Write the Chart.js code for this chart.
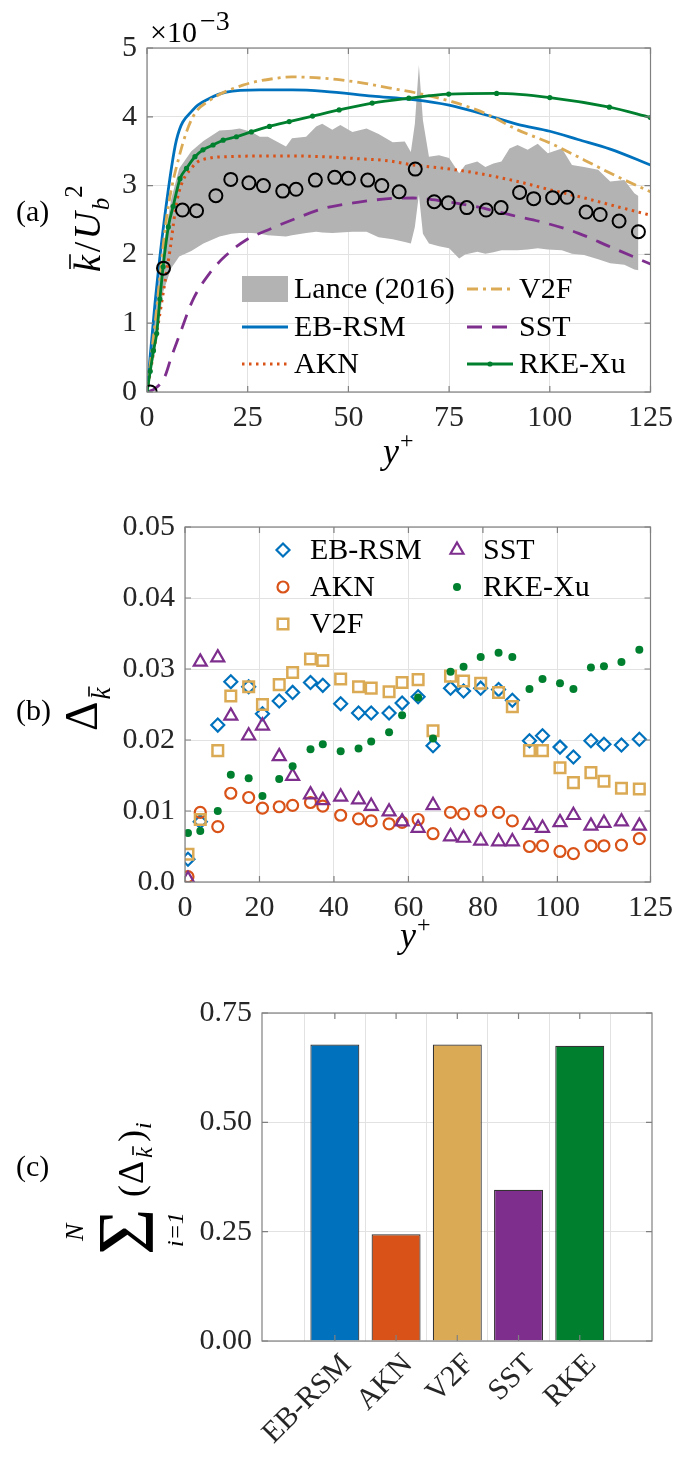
<!DOCTYPE html>
<html>
<head>
<meta charset="utf-8">
<script src="https://cdn.jsdelivr.net/npm/chart.js@4/dist/chart.umd.min.js"></script>
<style>
  body { margin: 0; background: #fff; width: 681px; height: 1464px; position: relative; overflow: hidden; }
  canvas { position: absolute; left: 0; }
</style>
</head>
<body>
<canvas id="cA" width="681" height="475" style="top:0px"></canvas>
<canvas id="cB" width="681" height="485" style="top:475px"></canvas>
<canvas id="cC" width="681" height="504" style="top:960px"></canvas>
<script>
// sample positions (y+) shared by the Lance circles and the error markers
var yPlus = [0.8, 4.1, 8.8, 12.3, 17.1, 20.8, 25.3, 28.9, 33.7, 37.0, 41.8, 46.6, 50.0, 54.8, 58.3,
             62.6, 66.6, 71.3, 74.8, 79.4, 84.2, 87.9, 92.5, 96.0, 100.7, 104.3, 109.0, 112.5, 117.2, 122.0];

// (a) k/Ub^2 x 1e3
var lanceK = [0, 1.80, 2.645, 2.635, 2.853, 3.09, 3.04, 3.0, 2.92, 2.946, 3.08, 3.12, 3.106, 3.08, 3.0,
              2.91, 3.24, 2.766, 2.75, 2.68, 2.645, 2.68, 2.9, 2.81, 2.825, 2.83, 2.616, 2.58, 2.485, 2.33];

var bandY  = [0, 2, 4, 6, 8, 11, 14, 18, 21, 23, 26, 28, 30, 34.5, 36, 39.5, 42, 43.5, 46, 48, 51, 54.5, 57.5, 61, 64,
              65.5, 66.5, 67.5, 68.5, 70, 72.5, 75, 77.5, 79, 82, 84, 86, 88, 90, 92, 94.5, 97, 99.5, 103, 105.5,
              108.5, 112, 115, 118.5, 121, 122];
var bandHi = [0, 1.2, 2.1, 2.8, 3.25, 3.5, 3.65, 3.8, 3.81, 3.83, 3.78, 3.71, 3.71, 3.57, 3.69, 3.71, 3.86, 3.9, 3.81,
              3.88, 3.78, 3.83, 3.75, 3.63, 3.64, 3.49, 3.9, 4.75, 3.95, 3.42, 3.44, 3.4, 3.18, 3.3, 3.35, 3.27, 3.32,
              3.35, 3.54, 3.59, 3.52, 3.61, 3.47, 3.54, 3.3, 3.27, 3.23, 3.06, 3.08, 2.89, 2.85];
var bandLo = [0, 0.6, 1.45, 1.8, 1.97, 2.05, 2.16, 2.26, 2.3, 2.31, 2.31, 2.3, 2.28, 2.26, 2.28, 2.31, 2.33, 2.32, 2.31,
              2.32, 2.33, 2.33, 2.25, 2.22, 2.18, 2.16, 2.4, 2.87, 2.3, 2.16, 2.12, 2.09, 1.94, 2.0, 2.04, 2.01, 2.03,
              2.06, 2.06, 2.06, 2.07, 2.09, 2.07, 2.06, 2.01, 1.99, 1.93, 1.87, 1.85, 1.78, 1.77];

var ebY  = [0, 2, 4.4, 7.3, 11.4, 15.6, 19.7, 27.9, 36, 44, 56, 66, 75, 84, 92, 100, 107, 115, 125];
var ebK  = [0, 1.3, 2.55, 3.66, 4.10, 4.27, 4.36, 4.39, 4.39, 4.37, 4.30, 4.25, 4.17, 4.03, 3.89, 3.79, 3.67, 3.53, 3.30];
var aknY = [0, 2.4, 4, 5.7, 7.5, 11.4, 15.6, 20, 28, 36, 44, 52.6, 60, 66, 74, 82, 92, 100, 108.6, 117, 125];
var aknK = [0, 0.85, 1.43, 2.06, 2.8, 3.28, 3.40, 3.42, 3.43, 3.43, 3.42, 3.39, 3.36, 3.3, 3.25, 3.18, 3.06, 2.94, 2.82, 2.69, 2.57];
var v2fY = [0, 2, 4.9, 8.2, 11.4, 15.6, 23.8, 32, 36, 44, 52.6, 60, 67.4, 75.7, 84, 92, 100.4, 108.6, 116.8, 125];
var v2fK = [0, 1.0, 2.55, 3.47, 4.0, 4.24, 4.46, 4.56, 4.58, 4.56, 4.5, 4.42, 4.34, 4.22, 4.05, 3.81, 3.61, 3.37, 3.13, 2.91];
var sstY = [0, 2, 4.4, 6, 8.2, 11.4, 15.6, 19.7, 24.6, 31, 36, 44, 52.6, 60, 66, 74, 82, 90.5, 98.7, 107, 115, 125];
var sstK = [0, 0.05, 0.22, 0.5, 0.85, 1.34, 1.73, 1.99, 2.21, 2.38, 2.5, 2.67, 2.76, 2.81, 2.82, 2.77, 2.69, 2.57, 2.46, 2.31, 2.11, 1.86];
var rkeY = [0, 0.8, 1.6, 2.4, 3.2, 4, 5.3, 6.5, 8.2, 9.8, 11.9, 13.9, 16.4, 18.9, 22.2, 25.9, 30.4, 35.3, 41.1, 47.7,
            55.9, 65, 74.9, 86.8, 100, 114.8, 125];
var rkeK = [0, 0.3, 0.6, 0.85, 1.35, 1.82, 2.4, 2.7, 3.1, 3.25, 3.42, 3.52, 3.59, 3.66, 3.71, 3.78, 3.86, 3.93, 4.01, 4.10,
            4.2, 4.27, 4.33, 4.34, 4.28, 4.14, 3.99];

// (b) error at each sample point
var ebD  = [0.0032, 0.0085, 0.0221, 0.0282, 0.0275, 0.0237, 0.0255, 0.0267, 0.0281, 0.0277, 0.0251, 0.0238, 0.0238, 0.0238, 0.0252,
            0.0261, 0.0192, 0.0273, 0.0269, 0.0273, 0.0271, 0.0256, 0.0199, 0.0206, 0.0190, 0.0176, 0.0199, 0.0194, 0.0193, 0.0201];
var aknD = [0.00075, 0.0098, 0.0078, 0.0125, 0.0119, 0.0104, 0.0106, 0.0108, 0.0112, 0.0107, 0.0094, 0.0089, 0.0086, 0.0082, 0.0084,
            0.0088, 0.0068, 0.0098, 0.0096, 0.0100, 0.0098, 0.0086, 0.0050, 0.0051, 0.0043, 0.0040, 0.0051, 0.0051, 0.0052, 0.0061];
var v2fD = [0.0039, 0.0088, 0.0185, 0.0262, 0.0275, 0.0250, 0.0278, 0.0295, 0.0314, 0.0312, 0.0286, 0.0275, 0.0273, 0.0268, 0.0281,
            0.0285, 0.0213, 0.0290, 0.0283, 0.0280, 0.0267, 0.0247, 0.0185, 0.0185, 0.0161, 0.0140, 0.0154, 0.0142, 0.0132, 0.0131];
var sstD = [0.0004, 0.0310, 0.0316, 0.0234, 0.0206, 0.0220, 0.0177, 0.0149, 0.0123, 0.0115, 0.0120, 0.0116, 0.0107, 0.0099, 0.0085,
            0.0076, 0.0108, 0.0064, 0.0062, 0.0058, 0.0057, 0.0057, 0.0080, 0.0076, 0.0084, 0.0094, 0.0079, 0.0083, 0.0085, 0.0079];
var rkeD = [0.0069, 0.0072, 0.0100, 0.0151, 0.0146, 0.0121, 0.0145, 0.0163, 0.0187, 0.0194, 0.0184, 0.0188, 0.0198, 0.0211, 0.0235,
            0.0260, 0.0202, 0.0296, 0.0303, 0.0317, 0.0323, 0.0317, 0.0272, 0.0286, 0.0280, 0.0272, 0.0302, 0.0304, 0.0310, 0.0327];
var xTicksB = [0, 20, 40, 60, 80, 100, 125];

// (c) summed error
var models   = ['EB-RSM', 'AKN', 'V2F', 'SST', 'RKE'];
var sumDelta = [0.678, 0.244, 0.678, 0.346, 0.675];

var BLUE = '#0072BD', ORANGE = '#D95319', GOLD = '#DBAA55', PURPLE = '#7E2F8E', GREEN = '#00802F';
var GRID = '#e2e2e2';
var SERIF = '"Liberation Serif", "Times New Roman", serif';
function f(size, style) { return (style ? style + ' ' : '') + size + 'px ' + SERIF; }

Chart.defaults.font.family = SERIF;
Chart.defaults.font.size = 30;
Chart.defaults.color = '#262626';

function pts(xs, ys) { return xs.map(function (x, i) { return { x: x, y: ys[i] }; }); }

// box round the plot area with short inward ticks
var boxPlugin = {
  id: 'box',
  afterDatasetsDraw: function (chart) {
    var a = chart.chartArea, ctx = chart.ctx, L = 6;
    ctx.save();
    ctx.strokeStyle = '#808080';
    ctx.lineWidth = 1.2;
    ctx.strokeRect(a.left, a.top, a.right - a.left, a.bottom - a.top);
    ctx.beginPath();
    chart.scales.x.ticks.forEach(function (t) {
      var px = chart.scales.x.getPixelForValue(t.value);
      ctx.moveTo(px, a.bottom); ctx.lineTo(px, a.bottom - L);
      ctx.moveTo(px, a.top); ctx.lineTo(px, a.top + L);
    });
    chart.scales.y.ticks.forEach(function (t) {
      var py = chart.scales.y.getPixelForValue(t.value);
      ctx.moveTo(a.left, py); ctx.lineTo(a.left + L, py);
      ctx.moveTo(a.right, py); ctx.lineTo(a.right - L, py);
    });
    ctx.stroke();
    ctx.restore();
  }
};

// text with sub/superscripts, optionally rotated
function richText(items) {
  return {
    id: 'rich',
    afterDraw: function (chart) {
      var ctx = chart.ctx;
      items.forEach(function (it) {
        ctx.save();
        ctx.translate(it.x, it.y);
        if (it.rot) ctx.rotate(it.rot * Math.PI / 180);
        ctx.fillStyle = '#000';
        ctx.strokeStyle = '#000';
        ctx.textAlign = 'left';
        ctx.textBaseline = 'alphabetic';
        var pos = 0;
        it.runs.forEach(function (r) {
          ctx.font = r.font;
          var x = r.at != null ? r.at : pos;
          var y = r.dy || 0;
          var w = ctx.measureText(r.t).width;
          ctx.fillText(r.t, x, y);
          if (r.bar != null) {
            ctx.lineWidth = 1.6;
            ctx.beginPath();
            ctx.moveTo(x + 3, y + r.bar);
            ctx.lineTo(x + w + 1, y + r.bar);
            ctx.stroke();
          }
          pos = x + w + (r.gap || 0);
        });
        ctx.restore();
      });
    }
  };
}

function marker(ctx, style, r, x, y) {
  ctx.beginPath();
  if (style === 'circle') {
    ctx.arc(x, y, r, 0, Math.PI * 2);
  } else if (style === 'rect') {
    var s = Math.SQRT1_2 * r;
    ctx.rect(x - s, y - s, 2 * s, 2 * s);
  } else if (style === 'rectRot') {
    ctx.moveTo(x, y - r); ctx.lineTo(x + r, y); ctx.lineTo(x, y + r); ctx.lineTo(x - r, y); ctx.closePath();
  } else if (style === 'triangle') {
    ctx.moveTo(x, y - r); ctx.lineTo(x + r * 0.866, y + r / 2); ctx.lineTo(x - r * 0.866, y + r / 2); ctx.closePath();
  }
}

// legend drawn from the dataset styles at fixed spots
function legendAt(items) {
  return {
    id: 'legendAt',
    afterDraw: function (chart) {
      var ctx = chart.ctx;
      items.forEach(function (it) {
        var d = chart.data.datasets[it.ds];
        ctx.save();
        if (d.fill) {
          ctx.fillStyle = d.backgroundColor;
          ctx.fillRect(it.x0, it.y - 13, it.x1 - it.x0, 26);
        } else {
          if (d.showLine !== false && chart.config.type !== 'scatter') {
            ctx.strokeStyle = d.borderColor;
            ctx.lineWidth = d.borderWidth;
            ctx.setLineDash(d.borderDash || []);
            ctx.beginPath();
            ctx.moveTo(it.x0, it.y);
            ctx.lineTo(it.x1, it.y);
            ctx.stroke();
            ctx.setLineDash([]);
          }
          if (d.pointRadius > 0) {
            marker(ctx, d.pointStyle || 'circle', d.pointRadius, (it.x0 + it.x1) / 2, it.y);
            ctx.fillStyle = d.pointBackgroundColor;
            ctx.fill();
            if (d.pointBorderWidth > 0) {
              ctx.strokeStyle = d.pointBorderColor;
              ctx.lineWidth = d.pointBorderWidth;
              ctx.stroke();
            }
          }
        }
        ctx.fillStyle = '#000';
        ctx.font = f(30);
        ctx.textBaseline = 'middle';
        ctx.textAlign = 'left';
        ctx.fillText(d.label, it.x1 + 6, it.y + 1);
        ctx.restore();
      });
    }
  };
}

function axisOpts(extra) {
  var o = {
    grid: { color: GRID, lineWidth: 1, drawTicks: false },
    border: { display: false },
    ticks: { padding: 10, maxRotation: 0, color: '#262626' }
  };
  for (var k in extra) {
    if (k === 'ticks') { for (var t in extra.ticks) o.ticks[t] = extra.ticks[t]; }
    else o[k] = extra[k];
  }
  return o;
}

var common = {
  responsive: false,
  animation: false,
  devicePixelRatio: 1,
  events: [],
  plugins: { legend: { display: false }, tooltip: { enabled: false } }
};
function opts(extra) {
  var o = JSON.parse(JSON.stringify(common));
  for (var k in extra) o[k] = extra[k];
  return o;
}

// ---------- (a) ----------
new Chart(document.getElementById('cA'), {
  type: 'line',
  data: {
    datasets: [
      { label: 'Lance (2016)', data: pts(bandY, bandHi), borderColor: 'rgba(0,0,0,0)', borderWidth: 1,
        pointRadius: 0, fill: '+1', backgroundColor: '#b3b3b3', order: 10 },
      { label: 'band', data: pts(bandY, bandLo), borderColor: 'rgba(0,0,0,0)', borderWidth: 1,
        pointRadius: 0, fill: false, order: 11 },
      { label: 'EB-RSM', data: pts(ebY, ebK), borderColor: BLUE, borderWidth: 2.8, pointRadius: 0,
        cubicInterpolationMode: 'monotone', order: 5 },
      { label: 'AKN', data: pts(aknY, aknK), borderColor: ORANGE, borderWidth: 3, borderDash: [2.5, 4.5],
        pointRadius: 0, cubicInterpolationMode: 'monotone', order: 4 },
      { label: 'V2F', data: pts(v2fY, v2fK), borderColor: GOLD, borderWidth: 2.8, borderDash: [11, 5, 3, 5],
        pointRadius: 0, cubicInterpolationMode: 'monotone', order: 3 },
      { label: 'SST', data: pts(sstY, sstK), borderColor: PURPLE, borderWidth: 2.8, borderDash: [15, 10],
        pointRadius: 0, cubicInterpolationMode: 'monotone', order: 2 },
      { label: 'RKE-Xu', data: pts(rkeY, rkeK), borderColor: GREEN, borderWidth: 2.8, pointRadius: 2.6,
        pointStyle: 'circle', pointBackgroundColor: GREEN, pointBorderColor: GREEN, pointBorderWidth: 0,
        cubicInterpolationMode: 'monotone', order: 1 },
      { label: 'Lance', data: pts(yPlus, lanceK), showLine: false, pointStyle: 'circle', pointRadius: 6.5,
        pointBorderWidth: 2, pointBorderColor: '#000', pointBackgroundColor: 'rgba(0,0,0,0)', order: 0 }
    ]
  },
  options: opts({
    layout: { padding: { top: 48, right: 28, left: 0, bottom: 0 } },
    scales: {
      x: axisOpts({ type: 'linear', min: 0, max: 125, ticks: { stepSize: 25, padding: 8 },
        afterFit: function (s) { s.height = 83; } }),
      y: axisOpts({ type: 'linear', min: 0, max: 5, ticks: { stepSize: 1 },
        afterFit: function (s) { s.width = 147; } })
    }
  }),
  plugins: [boxPlugin,
    legendAt([
      { ds: 0, x0: 242, x1: 288, y: 289 },
      { ds: 2, x0: 242, x1: 288, y: 327 },
      { ds: 3, x0: 242, x1: 288, y: 364 },
      { ds: 4, x0: 467, x1: 513, y: 289 },
      { ds: 5, x0: 467, x1: 513, y: 327 },
      { ds: 6, x0: 467, x1: 513, y: 364 }
    ]),
    richText([
      { x: 16, y: 221, runs: [{ t: '(a)', font: f(30) }] },
      { x: 150, y: 42, runs: [{ t: '\u00d7', font: f(30) }, { t: '10', font: f(30), gap: 3 }, { t: '\u22123', font: f(28), dy: -12 }] },
      { x: 383, y: 463, runs: [{ t: 'y', font: f(36, 'italic'), gap: 1 }, { t: '+', font: f(24), dy: -15 }] },
      { x: 100, y: 272, rot: -90, runs: [
        { t: 'k', font: f(38, 'italic'), bar: -30, gap: 3 },
        { t: '/', font: f(38), gap: 2 },
        { t: 'U', font: f(38, 'italic'), gap: 2 },
        { t: 'b', font: f(25, 'italic'), dy: 9 },
        { t: '2', font: f(25), at: null, dy: -18 }
      ] }
    ])
  ]
});

// ---------- (b) ----------
function scat(label, ys, style, color, r, bw, filled, order) {
  return { label: label, data: pts(yPlus, ys), pointStyle: style, pointRadius: r,
    pointBorderWidth: bw, pointBorderColor: color,
    pointBackgroundColor: filled ? color : 'rgba(0,0,0,0)', order: order };
}
new Chart(document.getElementById('cB'), {
  type: 'scatter',
  data: {
    datasets: [
      scat('EB-RSM', ebD, 'rectRot', BLUE, 6.5, 2.2, false, 5),
      scat('AKN', aknD, 'circle', ORANGE, 5.5, 2.2, false, 4),
      scat('V2F', v2fD, 'rect', GOLD, 7.5, 2.5, false, 3),
      scat('SST', sstD, 'triangle', PURPLE, 7.5, 2.2, false, 2),
      scat('RKE-Xu', rkeD, 'circle', GREEN, 4, 0, true, 1)
    ]
  },
  options: opts({
    layout: { padding: { top: 52, right: 29, left: 0, bottom: 0 } },
    scales: {
      x: axisOpts({ type: 'linear', min: 0, max: 125, ticks: { padding: 8 },
        afterBuildTicks: function (s) { s.ticks = xTicksB.map(function (v) { return { value: v }; }); },
        afterFit: function (s) { s.height = 78; } }),
      y: axisOpts({ type: 'linear', min: 0, max: 0.05,
        ticks: { stepSize: 0.01, callback: function (v) { return v === 0 ? '0.0' : v.toFixed(2); } },
        afterFit: function (s) { s.width = 185; } })
    }
  }),
  plugins: [boxPlugin,
    legendAt([
      { ds: 0, x0: 262, x1: 304, y: 75 },
      { ds: 1, x0: 262, x1: 304, y: 112 },
      { ds: 2, x0: 262, x1: 304, y: 149 },
      { ds: 3, x0: 437, x1: 477, y: 75 },
      { ds: 4, x0: 437, x1: 477, y: 112 }
    ]),
    richText([
      { x: 16, y: 245, runs: [{ t: '(b)', font: f(30) }] },
      { x: 400, y: 472, runs: [{ t: 'y', font: f(36, 'italic'), gap: 1 }, { t: '+', font: f(24), dy: -15 }] },
      { x: 97, y: 256, rot: -90, runs: [
        { t: '\u0394', font: f(46), gap: 2 },
        { t: 'k', font: f(27, 'italic'), dy: 13, bar: -21 }
      ] }
    ])
  ]
});

// ---------- (c) ----------
new Chart(document.getElementById('cC'), {
  type: 'bar',
  data: {
    datasets: [{
      data: models.map(function (m, i) { return { x: i + 1, y: sumDelta[i] }; }),
      backgroundColor: [BLUE, ORANGE, GOLD, PURPLE, GREEN],
      borderColor: '#333333',
      borderWidth: 1.2,
      barPercentage: 0.8,
      categoryPercentage: 1
    }]
  },
  options: opts({
    layout: { padding: { top: 53, right: 29, left: 0, bottom: 0 } },
    scales: {
      x: axisOpts({ type: 'linear', min: -0.19, max: 6.18, offset: false,
        afterBuildTicks: function (s) { s.ticks = models.map(function (m, i) { return { value: i + 1 }; }); },
        ticks: { minRotation: 45, maxRotation: 45, padding: 6, labelOffset: 12,
          callback: function (v) { return models[v - 1]; } },
        afterFit: function (s) { s.height = 123; } }),
      y: axisOpts({ type: 'linear', min: 0, max: 0.75,
        ticks: { stepSize: 0.25, callback: function (v) { return v.toFixed(2); } },
        afterFit: function (s) { s.width = 262; } })
    }
  }),
  plugins: [boxPlugin,
    richText([
      { x: 16, y: 216, runs: [{ t: '(c)', font: f(30) }] },
      { x: 143, y: 295, rot: -90, runs: [
        { t: '\u03a3', font: f(80), at: 0, dy: 10 },
        { t: 'N', font: f(26, 'italic'), at: 14, dy: -60 },
        { t: 'i=1', font: f(24, 'italic'), at: 8, dy: 40 },
        { t: '(', font: f(36), at: 58 },
        { t: '\u0394', font: f(36), at: 71 },
        { t: 'k', font: f(24, 'italic'), at: 97, dy: 9, bar: -19 },
        { t: ')', font: f(36), at: 113 },
        { t: 'i', font: f(24, 'italic'), at: 126, dy: 8 }
      ] }
    ])
  ]
});
</script>
</body>
</html>
